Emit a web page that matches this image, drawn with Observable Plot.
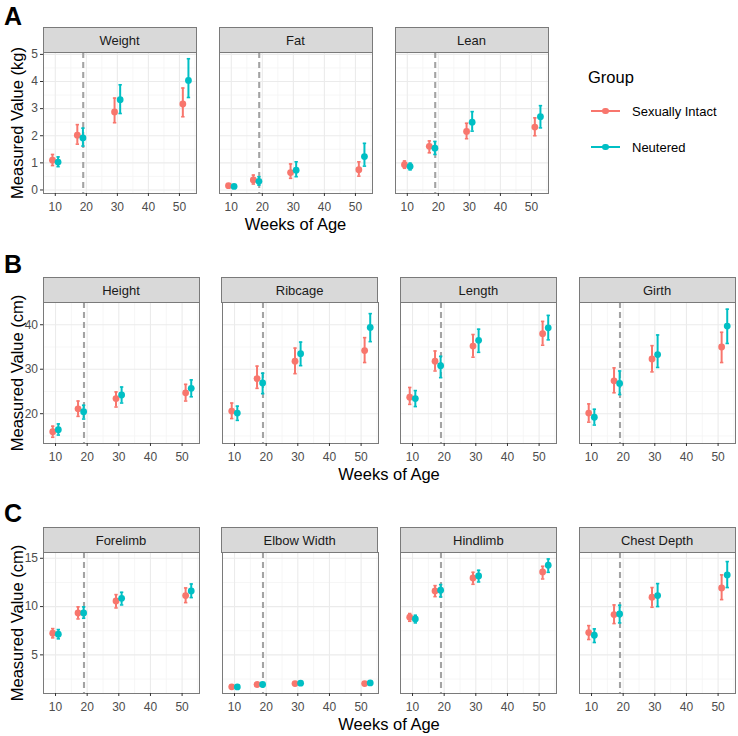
<!DOCTYPE html>
<html><head><meta charset="utf-8">
<script src="https://cdn.jsdelivr.net/npm/d3@7"></script>
<script src="https://cdn.jsdelivr.net/npm/@observablehq/plot@0.6"></script>
<style>
body{margin:0;background:#fff;font-family:"Liberation Sans",Arial,sans-serif;}
#chart{position:relative;width:738px;height:736px;overflow:hidden;background:#fff;}
.abs{position:absolute;white-space:nowrap;line-height:1;}
.strip{position:absolute;box-sizing:border-box;background:#d9d9d9;border:1px solid #7a7a7a;color:#1a1a1a;font-size:13px;display:flex;align-items:center;justify-content:center;}
</style></head><body><div id="chart"></div>
<script>
// ---------- data ----------
const weeks = [10, 18, 30, 52];
const groups = ["Sexually Intact", "Neutered"];
const groupColors = ["#F8766D", "#00BFC4"];
const neuterWeek = 19;
const xTicks = [10, 20, 30, 40, 50];
const xMinorTicks = [15, 25, 35, 45, 55];

// each entry: [mean, lower, upper] at the weeks above
const weightIntact   = [[1.10,0.90,1.31],[2.02,1.69,2.41],[2.88,2.48,3.39],[3.17,2.70,3.76]];
const weightNeutered = [[1.03,0.86,1.22],[1.92,1.62,2.28],[3.33,2.82,3.88],[4.04,3.41,4.84]];
const fatIntact      = [[0.16,0.12,0.20],[0.37,0.22,0.55],[0.64,0.43,0.96],[0.75,0.51,1.04]];
const fatNeutered    = [[0.13,0.10,0.16],[0.32,0.18,0.49],[0.73,0.49,1.04],[1.23,0.88,1.72]];
const leanIntact     = [[0.93,0.80,1.07],[1.61,1.37,1.81],[2.16,1.89,2.46],[2.32,2.00,2.66]];
const leanNeutered   = [[0.87,0.74,0.99],[1.54,1.31,1.79],[2.50,2.17,2.89],[2.70,2.29,3.11]];

const heightIntact   = [[15.96,14.7,17.2],[21.1,19.4,22.85],[23.4,21.5,24.9],[24.7,22.85,26.6]];
const heightNeutered = [[16.4,15.2,17.7],[20.45,18.8,21.9],[24.2,22.4,26.0],[25.7,23.8,27.6]];
const ribcageIntact  = [[20.6,18.9,22.4],[27.9,25.7,30.7],[31.8,29.0,34.75],[34.2,31.5,37.1]];
const ribcageNeutered= [[20.15,18.5,21.7],[26.9,24.5,29.1],[33.5,30.8,36.1],[39.4,36.2,42.5]];
const lengthIntact   = [[23.7,22.1,25.9],[31.8,29.6,34.1],[35.2,32.7,37.8],[38.0,35.4,40.75]];
const lengthNeutered = [[23.4,21.6,25.2],[30.8,28.1,32.9],[36.5,33.8,39.0],[39.3,36.6,42.1]];
const girthIntact    = [[20.15,18.1,22.2],[27.4,24.7,30.3],[32.3,29.4,35.3],[35.0,31.5,38.3]];
const girthNeutered  = [[19.2,17.45,21.0],[26.8,24.3,29.6],[33.3,30.4,37.7],[39.7,35.8,43.5]];

const forelimbIntact   = [[7.24,6.76,7.72],[9.34,8.72,9.97],[10.59,9.86,11.24],[11.14,10.41,11.93]];
const forelimbNeutered = [[7.14,6.66,7.62],[9.34,8.79,9.97],[10.86,10.17,11.48],[11.62,10.93,12.34]];
const elbowIntact      = [[1.69,1.60,1.78],[1.93,1.84,2.02],[2.03,1.95,2.11],[2.03,1.95,2.11]];
const elbowNeutered    = [[1.68,1.60,1.76],[1.93,1.85,2.01],[2.07,1.99,2.15],[2.10,2.02,2.18]];
const hindlimbIntact   = [[8.90,8.48,9.28],[11.62,11.03,12.17],[12.97,12.31,13.55],[13.59,12.86,14.17]];
const hindlimbNeutered = [[8.72,8.31,9.10],[11.69,11.00,12.28],[13.17,12.55,13.76],[14.28,13.55,14.93]];
const chestIntact      = [[7.31,6.59,8.03],[9.17,8.24,10.17],[10.97,9.93,11.97],[11.93,10.72,13.28]];
const chestNeutered    = [[7.03,6.28,7.69],[9.24,8.31,10.14],[11.14,10.00,12.38],[13.28,11.97,14.66]];

const yTicksKg = [0, 1, 2, 3, 4, 5];
const yMinorKg = [0.5, 1.5, 2.5, 3.5, 4.5];
const yTicksCmB = [20, 30, 40];
const yMinorCmB = [15, 25, 35];
const yTicksCmC = [5, 10, 15];
const yMinorCmC = [2.5, 7.5, 12.5];

// ---------- build ----------
function table(intact, neutered) {
  const rows = [];
  [intact, neutered].forEach((series, gi) =>
    series.forEach(([mean, lo, hi], wi) => rows.push({group: groups[gi], week: weeks[wi], mean, lo, hi})));
  return rows;
}

const rowsCfg = [
  {letter: "A", letterY: 16, yLabel: "Measured Value (kg)", frameTop: 52, frameW: 153, step: 176,
   yDomain: [-0.13, 5.07], yTicks: yTicksKg, yMinor: yMinorKg,
   panels: [["Weight", weightIntact, weightNeutered], ["Fat", fatIntact, fatNeutered], ["Lean", leanIntact, leanNeutered]]},
  {letter: "B", letterY: 264, yLabel: "Measured Value (cm)", frameTop: 302, frameW: 156, step: 178.7,
   yDomain: [13.3, 45.0], yTicks: yTicksCmB, yMinor: yMinorCmB,
   panels: [["Height", heightIntact, heightNeutered], ["Ribcage", ribcageIntact, ribcageNeutered],
            ["Length", lengthIntact, lengthNeutered], ["Girth", girthIntact, girthNeutered]]},
  {letter: "C", letterY: 513, yLabel: "Measured Value (cm)", frameTop: 552, frameW: 156, step: 178.7,
   yDomain: [1.0, 15.6], yTicks: yTicksCmC, yMinor: yMinorCmC,
   panels: [["Forelimb", forelimbIntact, forelimbNeutered], ["Elbow Width", elbowIntact, elbowNeutered],
            ["Hindlimb", hindlimbIntact, hindlimbNeutered], ["Chest Depth", chestIntact, chestNeutered]]}
];

const xDomain = [6.2, 55.5];
const frameLeft = 43, frameH = 141, stripH = 25;
const cap = {draw(ctx) { ctx.moveTo(-1.7, 0); ctx.lineTo(1.7, 0); }};
const chart = document.getElementById("chart");

function addText(txt, x, y, css, anchor = "center") {
  const d = document.createElement("div");
  d.className = "abs";
  d.textContent = txt;
  d.style.left = x + "px";
  d.style.top = y + "px";
  const tx = anchor === "center" ? "-50%" : "0";
  d.style.transform = `translate(${tx},-50%)` + (css.rotate ? " rotate(-90deg)" : "");
  for (const [k, v] of Object.entries(css)) if (k !== "rotate") d.style[k] = v;
  chart.appendChild(d);
  return d;
}

function panelPlot(rows, cfg, showY) {
  const mL = 30, mR = 3, mT = 4, mB = 26;
  const inX = v => v >= xDomain[0] && v <= xDomain[1];
  const inY = v => v >= cfg.yDomain[0] && v <= cfg.yDomain[1];
  const marks = [
    Plot.ruleX(xMinorTicks.filter(inX), {stroke: "#f4f4f4", strokeWidth: 0.8}),
    Plot.ruleY(cfg.yMinor.filter(inY), {stroke: "#f4f4f4", strokeWidth: 0.8}),
    Plot.ruleX(xTicks, {stroke: "#ebebeb", strokeWidth: 1.1}),
    Plot.ruleY(cfg.yTicks.filter(inY), {stroke: "#ebebeb", strokeWidth: 1.1}),
    Plot.ruleX([neuterWeek], {stroke: "#a3a3a3", strokeWidth: 2.1, strokeDasharray: "6,4"})
  ];
  groups.forEach((g, gi) => {
    const d = rows.filter(r => r.group === g);
    const dx = gi === 0 ? -2.8 : 2.8;
    marks.push(
      Plot.ruleX(d, {x: "week", y1: "lo", y2: "hi", stroke: "group", strokeWidth: 2, dx}),
      Plot.dot(d, {x: "week", y: "hi", symbol: cap, r: 2, stroke: "group", fill: "none", strokeWidth: 1.6, dx}),
      Plot.dot(d, {x: "week", y: "lo", symbol: cap, r: 2, stroke: "group", fill: "none", strokeWidth: 1.6, dx}),
      Plot.dot(d, {x: "week", y: "mean", r: 3.4, fill: "group", stroke: "none", dx})
    );
  });
  marks.push(Plot.frame({stroke: "#7a7a7a", strokeWidth: 1}));
  marks.push(Plot.axisX(xTicks, {tickSize: 3, tickPadding: 6, fontSize: 12, fill: "#4d4d4d", stroke: "#333", label: null}));
  if (showY) marks.push(Plot.axisY(cfg.yTicks, {tickSize: 3, tickPadding: 2.5, fontSize: 12, fill: "#4d4d4d", stroke: "#333", label: null}));
  const svg = Plot.plot({
    width: cfg.frameW + mL + mR, height: frameH + mT + mB,
    marginLeft: mL, marginRight: mR, marginTop: mT, marginBottom: mB,
    style: {background: "transparent", fontFamily: "'Liberation Sans', Arial, sans-serif"},
    x: {domain: xDomain, axis: null},
    y: {domain: cfg.yDomain, axis: null},
    color: {domain: groups, range: groupColors},
    marks
  });
  svg.style.position = "absolute";
  return {svg, mL, mT};
}

rowsCfg.forEach(cfg => {
  cfg.panels.forEach(([name, intact, neutered], i) => {
    const fx = frameLeft + i * cfg.step;
    const {svg, mL, mT} = panelPlot(table(intact, neutered), cfg, i === 0);
    svg.style.left = (fx - mL) + "px";
    svg.style.top = (cfg.frameTop - mT) + "px";
    chart.appendChild(svg);
    const s = document.createElement("div");
    s.className = "strip";
    s.textContent = name;
    s.style.left = (fx - 0.5) + "px";
    s.style.top = (cfg.frameTop - stripH) + "px";
    s.style.width = (cfg.frameW + 1) + "px";
    s.style.height = (stripH + 1) + "px";
    chart.appendChild(s);
  });
  const lastRight = frameLeft + (cfg.panels.length - 1) * cfg.step + cfg.frameW;
  addText("Weeks of Age", (frameLeft + lastRight) / 2, cfg.frameTop + frameH + 30.5, {fontSize: "16.5px", color: "#000"});
  addText(cfg.yLabel, 17, cfg.frameTop + frameH / 2, {fontSize: "16.5px", color: "#000", rotate: true});
  addText(cfg.letter, 4, cfg.letterY, {fontSize: "25px", fontWeight: "bold", color: "#000"}, "left");
});

// legend
addText("Group", 588, 77, {fontSize: "16.5px", color: "#000"}, "left");
groups.forEach((g, gi) => {
  const y = 111 + gi * 36;
  const line = document.createElement("div");
  line.style.cssText = `position:absolute;left:591px;top:${y - 1}px;width:29px;height:2px;background:${groupColors[gi]}`;
  chart.appendChild(line);
  const dot = document.createElement("div");
  dot.style.cssText = `position:absolute;left:${605.5 - 3.4}px;top:${y - 3.4}px;width:6.8px;height:6.8px;border-radius:50%;background:${groupColors[gi]}`;
  chart.appendChild(dot);
  addText(g, 632, y, {fontSize: "13px", color: "#000"}, "left");
});
</script></body></html>
